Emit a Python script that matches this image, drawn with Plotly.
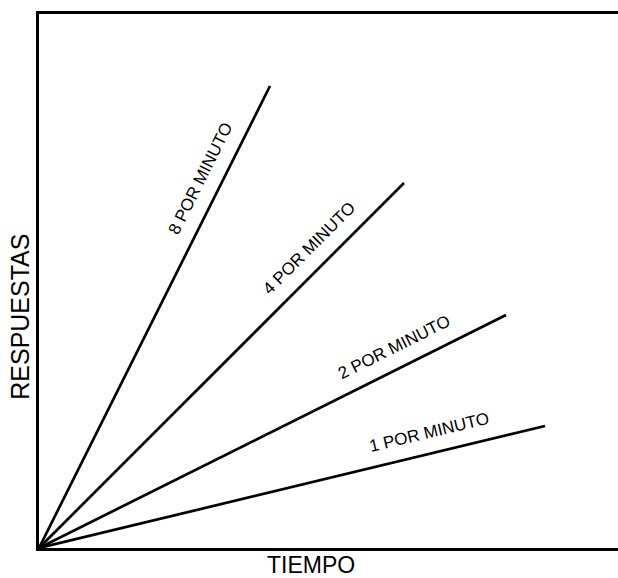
import math
import plotly.graph_objects as go

# data: end point of each cumulative line
rates = ["8 POR MINUTO", "4 POR MINUTO", "2 POR MINUTO", "1 POR MINUTO"]
end_time = [23.1, 36.5, 46.7, 50.6]
end_resp = [184.8, 146.0, 93.2, 48.8]

W, H = 618, 578
ml, mr, mt, mb = 39, 0, 14, 30
x_max = 57.9
y_max = 213.6
px_x = (W - ml - mr) / x_max
px_y = (H - mt - mb) / y_max

FONT = "Liberation Sans, Arial, Helvetica, sans-serif"

fig = go.Figure()
for name, t, r in zip(rates, end_time, end_resp):
    fig.add_trace(go.Scatter(x=[0, t], y=[0, r], mode="lines", name=name,
                             line=dict(color="black", width=2.7),
                             showlegend=False, hoverinfo="skip"))

    # label sits along the line, pushed up-left a bit
    ang = math.atan2(r * px_y, t * px_x)
    frac = 0.78
    off = 21
    fig.add_annotation(x=t * frac, y=r * frac, text=name, showarrow=False,
                       textangle=-math.degrees(ang),
                       xshift=-off * math.sin(ang), yshift=off * math.cos(ang),
                       font=dict(family=FONT, size=17, color="black"))

fig.add_annotation(xref="paper", yref="paper", x=0.469, y=0, yshift=-17,
                   text="TIEMPO", showarrow=False, yanchor="middle",
                   font=dict(family=FONT, size=23, color="black"))
fig.add_annotation(xref="paper", yref="paper", x=0, y=0.433, xshift=-19,
                   text="RESPUESTAS", showarrow=False, textangle=-90,
                   xanchor="center", yanchor="middle",
                   font=dict(family=FONT, size=25, color="black"))

fig.update_xaxes(range=[0, x_max], showline=True, linecolor="black", linewidth=2.7,
                 mirror=True, showgrid=False, zeroline=False, showticklabels=False,
                 ticks="")
fig.update_yaxes(range=[0, y_max], showline=True, linecolor="black", linewidth=2.7,
                 showgrid=False, zeroline=False, showticklabels=False, ticks="")
fig.update_layout(width=W, height=H, margin=dict(l=ml, r=mr, t=mt, b=mb),
                  plot_bgcolor="white", paper_bgcolor="white")

# drop the default page margin so the figure fills the window exactly
fig.write_html("out.html", config={"displayModeBar": False},
               post_script="document.body.style.margin = '0';")
